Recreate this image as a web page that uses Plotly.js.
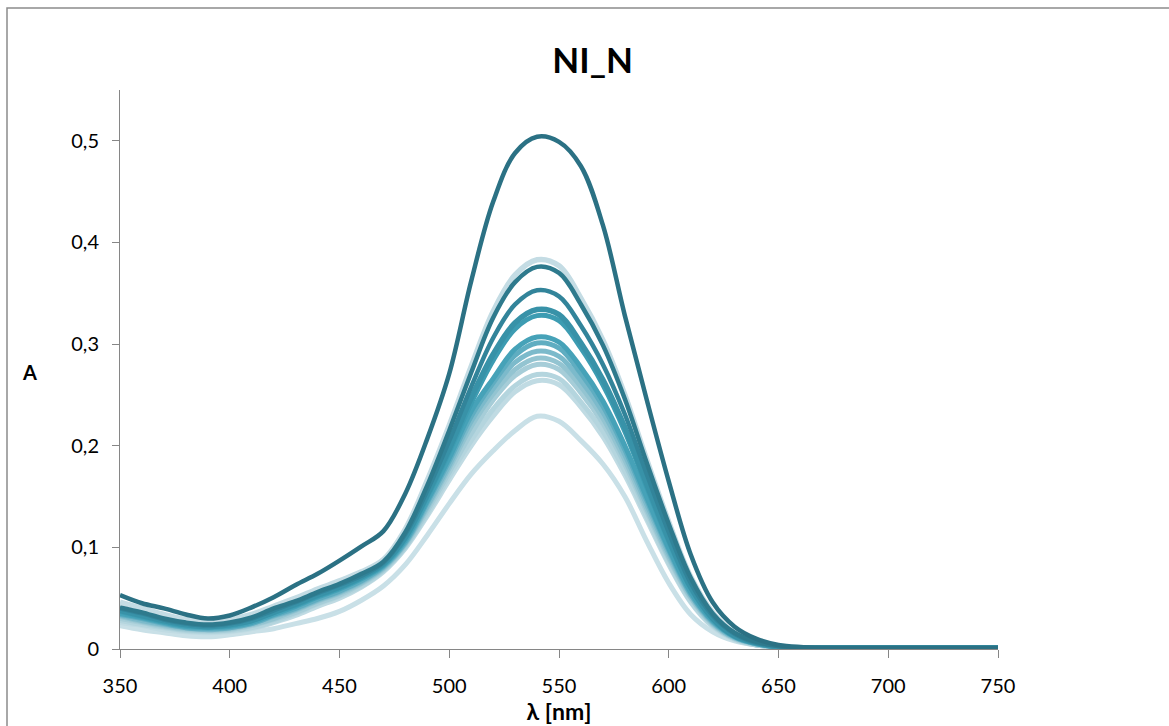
<!DOCTYPE html>
<html>
<head>
<meta charset="utf-8">
<script src="https://cdn.plot.ly/plotly-3.0.1.min.js"></script>
<style>
  html, body { margin: 0; padding: 0; background: #ffffff; }
  #chart { width: 1169px; height: 726px; }
</style>
</head>
<body>
<div id="chart"></div>
<script>
// Wavelengths (nm)
const wavelength = [350,360,370,380,390,400,410,420,430,440,450,460,470,480,490,500,510,520,530,540,550,560,570,580,590,600,610,620,630,640,650,660,680,700,720,750];

// Absorbance series (highest peak first)
const s01 = [0.053,0.045,0.040,0.034,0.030,0.033,0.041,0.051,0.063,0.074,0.087,0.101,0.116,0.153,0.207,0.271,0.362,0.440,0.488,0.504,0.499,0.475,0.417,0.328,0.245,0.165,0.093,0.046,0.022,0.010,0.004,0.002,0.001,0.001,0.001,0.001];
const s02 = [0.046,0.040,0.034,0.029,0.027,0.029,0.034,0.042,0.050,0.059,0.067,0.076,0.088,0.118,0.166,0.220,0.278,0.332,0.368,0.383,0.377,0.345,0.304,0.250,0.186,0.125,0.071,0.036,0.016,0.007,0.003,0.001,0.001,0.001,0.001,0.001];
const s03 = [0.041,0.036,0.030,0.026,0.024,0.026,0.031,0.040,0.047,0.056,0.064,0.074,0.086,0.115,0.161,0.215,0.272,0.326,0.361,0.376,0.370,0.339,0.299,0.246,0.183,0.123,0.070,0.035,0.016,0.007,0.003,0.001,0.001,0.001,0.001,0.001];
const s04 = [0.040,0.035,0.029,0.025,0.023,0.025,0.030,0.038,0.046,0.055,0.063,0.072,0.085,0.113,0.156,0.205,0.258,0.306,0.339,0.353,0.347,0.318,0.280,0.231,0.172,0.115,0.065,0.033,0.015,0.006,0.003,0.001,0.001,0.001,0.001,0.001];
const s05 = [0.038,0.033,0.028,0.024,0.022,0.024,0.028,0.036,0.044,0.053,0.061,0.071,0.084,0.110,0.152,0.197,0.247,0.290,0.321,0.334,0.329,0.301,0.265,0.218,0.162,0.108,0.061,0.030,0.013,0.006,0.002,0.001,0.001,0.001,0.001,0.001];
const s06 = [0.037,0.032,0.027,0.023,0.022,0.023,0.028,0.036,0.043,0.052,0.060,0.070,0.083,0.109,0.150,0.194,0.242,0.284,0.315,0.328,0.323,0.296,0.260,0.214,0.159,0.106,0.060,0.030,0.013,0.006,0.002,0.001,0.001,0.001,0.001,0.001];
const s07 = [0.035,0.031,0.026,0.022,0.021,0.022,0.026,0.034,0.042,0.051,0.059,0.069,0.082,0.107,0.146,0.188,0.234,0.266,0.295,0.307,0.302,0.277,0.244,0.200,0.149,0.099,0.056,0.028,0.012,0.005,0.002,0.001,0.001,0.001,0.001,0.001];
const s08 = [0.034,0.030,0.025,0.021,0.020,0.021,0.025,0.033,0.040,0.049,0.057,0.067,0.081,0.105,0.144,0.185,0.229,0.262,0.289,0.301,0.296,0.271,0.239,0.196,0.146,0.097,0.054,0.027,0.012,0.005,0.002,0.001,0.001,0.001,0.001,0.001];
const s09 = [0.033,0.028,0.024,0.021,0.019,0.021,0.025,0.032,0.039,0.048,0.056,0.066,0.080,0.104,0.141,0.181,0.224,0.256,0.282,0.293,0.288,0.264,0.233,0.191,0.142,0.094,0.053,0.026,0.011,0.005,0.002,0.001,0.001,0.001,0.001,0.001];
const s10 = [0.032,0.027,0.023,0.020,0.019,0.020,0.024,0.030,0.038,0.047,0.055,0.065,0.079,0.103,0.139,0.178,0.219,0.251,0.275,0.286,0.281,0.258,0.227,0.186,0.138,0.091,0.051,0.025,0.011,0.005,0.002,0.001,0.001,0.001,0.001,0.001];
const s11 = [0.030,0.026,0.022,0.019,0.018,0.019,0.023,0.029,0.036,0.045,0.053,0.064,0.078,0.101,0.136,0.174,0.212,0.245,0.269,0.280,0.275,0.252,0.222,0.182,0.135,0.089,0.050,0.024,0.010,0.004,0.002,0.001,0.001,0.001,0.001,0.001];
const s12 = [0.028,0.024,0.021,0.018,0.017,0.018,0.021,0.027,0.035,0.044,0.052,0.062,0.077,0.100,0.133,0.170,0.205,0.236,0.259,0.270,0.266,0.243,0.214,0.175,0.130,0.085,0.047,0.023,0.010,0.004,0.002,0.001,0.001,0.001,0.001,0.001];
const s13 = [0.026,0.023,0.019,0.017,0.016,0.017,0.020,0.026,0.033,0.042,0.050,0.061,0.076,0.099,0.131,0.166,0.200,0.229,0.253,0.264,0.260,0.238,0.209,0.171,0.127,0.083,0.046,0.022,0.009,0.004,0.002,0.001,0.001,0.001,0.001,0.001];
const s14 = [0.023,0.019,0.016,0.013,0.012,0.014,0.017,0.020,0.025,0.030,0.037,0.048,0.062,0.083,0.112,0.143,0.172,0.195,0.215,0.229,0.224,0.205,0.182,0.150,0.106,0.065,0.034,0.017,0.008,0.004,0.002,0.001,0.001,0.001,0.001,0.001];

const xTicks = [350,400,450,500,550,600,650,700,750];
const yTicks = [0,0.1,0.2,0.3,0.4,0.5];

// Draw order (first = bottom) with colours and widths
const order = [
  {y: s14, c: '#c9e0e7', w: 5},
  {y: s02, c: '#c4dce4', w: 5.5},
  {y: s13, c: '#c0dbe3', w: 5},
  {y: s12, c: '#b4d5de', w: 5},
  {y: s11, c: '#a6cdd8', w: 5},
  {y: s10, c: '#93c4d1', w: 5},
  {y: s09, c: '#7cbacb', w: 5},
  {y: s08, c: '#5fadc1', w: 5},
  {y: s07, c: '#46a2b8', w: 5},
  {y: s06, c: '#3d9cb2', w: 5},
  {y: s05, c: '#3892a8', w: 5.5},
  {y: s04, c: '#32849a', w: 4.5},
  {y: s03, c: '#2e7a8d', w: 4.5},
  {y: s01, c: '#2b7184', w: 4.5}
];

const traces = order.map((o) => ({
  type: 'scatter',
  mode: 'lines',
  x: wavelength,
  y: o.y,
  line: {color: o.c, width: o.w, shape: 'spline', smoothing: 1},
  hoverinfo: 'x+y',
  showlegend: false
}));

const FONT = 'Lato, "Open Sans", "Noto Sans", sans-serif';
const axisCol = '#868686';

const layout = {
  width: 1169,
  height: 726,
  margin: {l: 120, r: 171, t: 90, b: 77, pad: 0},
  paper_bgcolor: '#ffffff',
  plot_bgcolor: '#ffffff',
  separators: ', ',
  font: {family: FONT, color: '#000000', size: 20},
  title: {
    text: '<b>NI_N</b>',
    font: {family: FONT, size: 35, color: '#000000'},
    xref: 'container', x: 0.507, xanchor: 'center',
    yref: 'container', y: 0.917, yanchor: 'middle'
  },
  xaxis: {
    range: [350, 750],
    tickmode: 'array',
    tickvals: xTicks,
    ticktext: xTicks.map(String),
    ticks: 'outside',
    ticklen: 8,
    tickwidth: 1,
    tickcolor: axisCol,
    showline: true,
    linecolor: axisCol,
    linewidth: 1,
    showgrid: false,
    zeroline: false,
    ticklabelstandoff: 11,
    tickfont: {family: FONT, size: 20, color: '#000000'},
    title: {text: '<b>λ [nm]</b>', font: {family: FONT, size: 23, color: '#000000'}, standoff: 7}
  },
  yaxis: {
    range: [0, 0.55],
    tickmode: 'array',
    tickvals: yTicks,
    ticks: 'outside',
    ticklen: 7,
    tickwidth: 1,
    tickcolor: axisCol,
    showline: true,
    linecolor: axisCol,
    linewidth: 1,
    showgrid: false,
    zeroline: false,
    tickformat: '.1~f',
    ticklabelstandoff: 9,
    tickfont: {family: FONT, size: 20, color: '#000000'}
  },
  annotations: [{
    text: '<b>A</b>',
    xref: 'paper', yref: 'paper',
    x: (29 - 120) / 878, y: (649 - 372) / 559,
    xanchor: 'center', yanchor: 'middle',
    showarrow: false,
    font: {family: FONT, size: 20, color: '#000000'}
  }],
  shapes: [{
    type: 'rect',
    xref: 'paper', yref: 'paper',
    x0: (7 - 120) / 878, x1: (1180 - 120) / 878,
    y0: (649 - 740) / 559, y1: (649 - 8) / 559,
    line: {color: '#8c8c8c', width: 1.5},
    fillcolor: 'rgba(0,0,0,0)',
    layer: 'below'
  }]
};

Plotly.newPlot('chart', traces, layout, {displayModeBar: false, staticPlot: true});
</script>
</body>
</html>
